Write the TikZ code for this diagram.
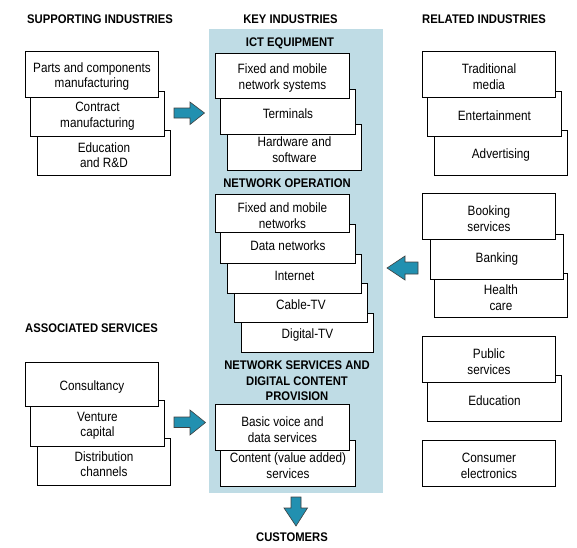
\documentclass[tikz,border=0pt]{standalone}
\usepackage{fontspec}
\setmainfont{Liberation Sans}[FakeStretch=0.87]
\newfontfamily\ttlfont{Liberation Sans}[FakeStretch=0.9]
\definecolor{keybg}{RGB}{191,220,229}
\definecolor{arrowc}{RGB}{34,144,176}
\newcommand\mybox[6]{%
  \node[box,anchor=north west,minimum width=#4pt,minimum height=#5pt] (#1) at (#2,#3) {};
  \node[boxtext] (#1-t) at ([yshift=-2.2pt]#1.center) {#6};}
\begin{document}
\begin{tikzpicture}[x=1pt,y=-1pt]
\tikzset{
  box/.style={draw=black, line width=0.9pt, fill=white, inner sep=0pt},
  boxtext/.style={align=center, inner sep=0pt, font=\fontsize{13.5}{15.5}\selectfont},
  ttl/.style={font=\ttlfont\bfseries\fontsize{12.5}{15.5}\selectfont, inner sep=0pt, align=center},
  barrow/.style={draw=black!75, line width=0.6pt, fill=arrowc, line join=miter},
}
\useasboundingbox (0,0) rectangle (577,547);
% key industries background
\fill[keybg] (209,29) rectangle (383,493);

% titles
\node[ttl,anchor=west] (tsup) at (27,19) {SUPPORTING INDUSTRIES};
\node[ttl] (tkey) at (290.5,19) {KEY INDUSTRIES};
\node[ttl] (trel) at (484,19) {RELATED INDUSTRIES};
\node[ttl,anchor=west] (tass) at (25,328) {ASSOCIATED SERVICES};
\node[ttl] (tict) at (290,43) {ICT EQUIPMENT};
\node[ttl] (tnet) at (287,183) {NETWORK OPERATION};
\node[ttl] (tsrv) at (297,381) {NETWORK SERVICES AND\\DIGITAL CONTENT\\PROVISION};
\node[ttl] (tcus) at (292,537) {CUSTOMERS};

% supporting industries
\mybox{s3}{37}{130}{133}{45}{Education\\and R\&D}
\mybox{s2}{30}{91}{134}{45}{Contract\\manufacturing}
\mybox{s1}{25}{51}{133}{46}{Parts and components\\manufacturing}

% ICT equipment
\mybox{k3}{227}{124}{134}{46}{Hardware and\\software}
\mybox{k2}{220}{89}{135}{45}{Terminals}
\mybox{k1}{215}{53}{134}{45}{Fixed and mobile\\network systems}

% network operation
\mybox{n5}{241}{313}{132}{39}{Digital-TV}
\mybox{n4}{234}{283}{133}{39}{Cable-TV}
\mybox{n3}{227}{254}{134}{39}{Internet}
\mybox{n2}{220}{224}{135}{39}{Data networks}
\mybox{n1}{215}{194}{134}{38}{Fixed and mobile\\networks}

% network services
\mybox{v2}{220}{440}{135}{46}{Content (value added)\\services}
\mybox{v1}{215}{404}{134}{46}{Basic voice and\\data services}

% related industries
\mybox{r3}{434}{130}{133}{45}{Advertising}
\mybox{r2}{427}{91}{134}{45}{Entertainment}
\mybox{r1}{422}{51}{133}{46}{Traditional\\media}
\mybox{r6}{434}{273}{133}{44}{Health\\care}
\mybox{r5}{430}{234}{133}{45}{Banking}
\mybox{r4}{422}{193}{133}{46}{Booking\\services}
\mybox{r8}{427}{375}{134}{46}{Education}
\mybox{r7}{422}{336}{133}{46}{Public\\services}
\mybox{r9}{422}{440}{133}{46}{Consumer\\electronics}

% associated services
\mybox{a3}{37}{438}{133}{47}{Distribution\\channels}
\mybox{a2}{30}{400}{134}{46}{Venture\\capital}
\mybox{a1}{25}{362}{133}{44}{Consultancy}

% block arrows
\draw[barrow] (174,108) -- (190,108) -- (190,102) -- (204.5,113) -- (190,124.5) -- (190,118) -- (174,118) -- cycle;
\draw[barrow] (174,417) -- (190,417) -- (190,410) -- (205.5,422.5) -- (190,435) -- (190,427.5) -- (174,427.5) -- cycle;
\draw[barrow] (418,262) -- (405,262) -- (405,256) -- (387,268) -- (405,280) -- (405,274) -- (418,274) -- cycle;
\draw[barrow] (291,497) -- (301,497) -- (301,508) -- (307.5,508) -- (296,526) -- (284,508) -- (291,508) -- cycle;
\end{tikzpicture}
\end{document}
